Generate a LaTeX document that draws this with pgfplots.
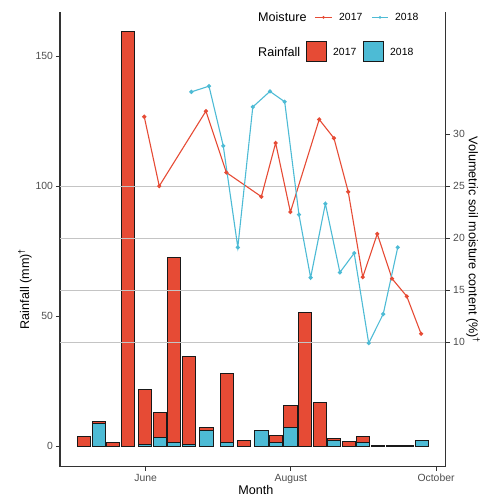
\documentclass[border=0pt]{standalone}
\usepackage{pgfplots}
\usepackage{pgfplotstable}
\pgfplotsset{compat=1.18}
\usepackage{fontspec}
\setmainfont{Liberation Sans}
\definecolor{nred}{HTML}{E64B35}
\definecolor{nblue}{HTML}{4DBBD5}
\definecolor{axgray}{HTML}{333333}
\definecolor{tickgray}{HTML}{4D4D4D}
\definecolor{gridgray}{HTML}{C4C4C4}

% days relative to 1 June
\pgfplotstableread{
day mm
-25.9 3.6
-19.6 9.3
-13.6 1.5
-7.4 159.5
-0.2 21.6
6.0 13.0
12.0 72.5
18.2 34.4
25.6 7.2
34.1 27.8
41.3 2.2
54.7 4.1
60.9 15.5
67.0 51.2
73.2 16.8
79.2 2.9
85.4 1.9
91.4 3.6
97.7 0.3
103.8 0.2
109.8 0.3
}\rainA

\pgfplotstableread{
day mm
-19.6 8.6
-0.2 0.7
6.0 3.3
12.0 1.3
18.2 0.8
25.6 5.9
34.1 1.3
48.7 6.0
54.7 1.4
60.9 7.1
79.2 2.3
91.4 1.4
116.0 2.0
}\rainB

\pgfplotstableread{
day m
-0.6 31.66
5.7 25.0
25.3 32.2
33.9 26.3
48.6 23.98
54.6 29.14
60.8 22.5
72.9 31.4
79.1 29.6
85.1 24.45
91.2 16.25
97.3 20.4
103.5 16.1
109.7 14.4
115.7 10.8
}\moistA

\pgfplotstableread{
day m
19.2 34.05
26.6 34.6
32.6 28.86
38.7 19.1
45.0 32.6
52.2 34.1
58.4 33.1
64.4 22.25
69.3 16.2
75.5 23.3
81.6 16.7
87.6 18.55
93.7 9.9
99.8 12.7
105.9 19.1
}\moistB

\begin{document}
\begin{tikzpicture}
\path[use as bounding box] (-60bp,-31.3bp) rectangle (424bp,466.7bp);

\pgfplotsset{
  common/.style={
    at={(0,0)}, anchor=south west,
    scale only axis, width=385.7bp, height=454.4bp,
    xmin=-36, xmax=126.05,
    axis line style={axgray, line width=1.2bp, -},
    tick align=outside, major tick length=4bp,
    tick style={axgray, line width=0.9bp},
    ticklabel style={font=\fontsize{10.4bp}{12bp}\selectfont, text=tickgray},
    /pgf/number format/assume math mode=true,
  }
}

\begin{axis}[common,
  ymin=-7.9, ymax=166.8,
  axis x line*=bottom, axis y line*=left,
  xtick={0,61,122}, xticklabels={June,August,October},
  ytick={0,50,100,150},
  yticklabel style={xshift=0.5bp},
]
\addplot[ybar, bar width=5.6, bar shift=0pt, fill=nred, draw=black!90, line width=1bp]
  table[x=day,y=mm]{\rainA};
\addplot[ybar, bar width=5.6, bar shift=0pt, fill=nblue, draw=black!90, line width=1bp]
  table[x=day,y=mm]{\rainB};
\end{axis}

\begin{axis}[common,
  ymin=-1.975, ymax=41.7,
  axis x line=none, axis y line*=right,
  ytick={10,15,20,25}, extra y ticks={30},
  extra y tick style={grid=none},
  ymajorgrids, grid style={gridgray, line width=1bp},
]
\addplot[nred, line width=1.1bp, mark=*, mark size=1.5bp, mark options={fill=nred, draw=nred}]
  table[x=day,y=m]{\moistA};
\addplot[nblue, line width=1.1bp, mark=*, mark size=1.5bp, mark options={fill=nblue, draw=nblue}]
  table[x=day,y=m]{\moistB};
\end{axis}

\begin{scope}[shift={(-60bp,466.7bp)}, x=1bp, y=-1bp]
  % axis titles
  \node[rotate=90, font=\fontsize{12.6bp}{15bp}\selectfont] at (25,289) {Rainfall (mm)\textsuperscript{†}};
  \node[rotate=-90, font=\fontsize{12.6bp}{15bp}\selectfont] at (473,240) {Volumetric soil moisture content (\%)\textsuperscript{†}};
  \node[font=\fontsize{12.6bp}{15bp}\selectfont] at (256,490) {Month};
  % legend row 1
  \node[anchor=west, inner sep=0pt, font=\fontsize{12.6bp}{15bp}\selectfont] at (258,17.3) {Moisture};
  \draw[nred, line width=1.1bp] (315,17.3) -- (332,17.3);
  \fill[nred] (323.5,17.3) circle (1.5bp);
  \node[anchor=west, inner sep=0pt, font=\fontsize{10.4bp}{12bp}\selectfont] at (339,17.3) {2017};
  \draw[nblue, line width=1.1bp] (372,17.3) -- (388,17.3);
  \fill[nblue] (380,17.3) circle (1.5bp);
  \node[anchor=west, inner sep=0pt, font=\fontsize{10.4bp}{12bp}\selectfont] at (395,17.3) {2018};
  % legend row 2
  \node[anchor=west, inner sep=0pt, font=\fontsize{12.6bp}{15bp}\selectfont] at (258,51.7) {Rainfall};
  \filldraw[fill=nred, draw=black!90, line width=1bp] (306.7,41.7) rectangle (326.7,61.7);
  \node[anchor=west, inner sep=0pt, font=\fontsize{10.4bp}{12bp}\selectfont] at (333,51.7) {2017};
  \filldraw[fill=nblue, draw=black!90, line width=1bp] (363.3,41.7) rectangle (383.3,61.7);
  \node[anchor=west, inner sep=0pt, font=\fontsize{10.4bp}{12bp}\selectfont] at (390,51.7) {2018};
\end{scope}
\end{tikzpicture}
\end{document}
